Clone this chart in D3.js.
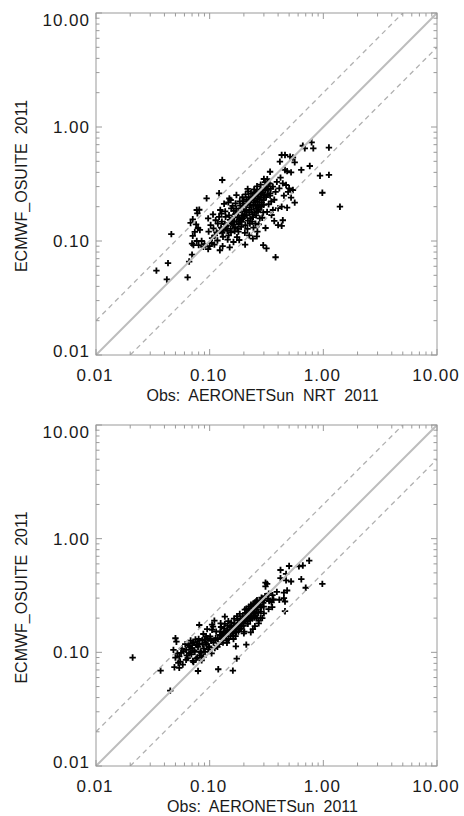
<!DOCTYPE html>
<html><head><meta charset="utf-8">
<script src="https://cdn.jsdelivr.net/npm/d3@7/dist/d3.min.js"></script>
<style>body{margin:0;background:#fff}svg{display:block}</style>
</head><body><svg id="c" width="464" height="816"></svg>
<script>
const majorTicks=[0.01,0.1,1,10];
const tickLabels=["0.01","0.10","1.00","10.00"];
const yTitle="ECMWF_OSUITE  2011";
const xTitles=["Obs:  AERONETSun  NRT  2011","Obs:  AERONETSun  2011"];

// Panel 1: AERONETSun NRT vs ECMWF_OSUITE  [obs, model]
const nrtOuter=[[0.034,0.055],[0.043,0.064],[0.042,0.046],[0.064,0.048],[0.046,0.115],[0.066,0.066],[0.070,0.076],
[0.068,0.144],[0.071,0.155],[0.081,0.188],[0.078,0.175],[0.071,0.111],[0.070,0.095],[0.077,0.10],[0.085,0.10],[0.088,0.089],[0.097,0.085],[0.123,0.083],
[0.129,0.343],[0.094,0.237],[0.121,0.262],[0.153,0.229],[0.216,0.286],[0.077,0.187],[0.074,0.12],[0.079,0.13],[0.076,0.14],[0.082,0.125],
[0.072,0.092],[0.080,0.092],[0.09,0.094],[0.10,0.09],[0.11,0.093],[0.13,0.09],[0.15,0.088],
[0.789,0.734],[0.816,0.65],[0.687,0.65],[0.66,0.685],[1.12,0.66],[0.43,0.568],[0.46,0.568],[0.51,0.55],[0.54,0.54],[0.415,0.497],[0.56,0.49],[0.34,0.405],[0.46,0.42],[0.48,0.41],[0.52,0.40],[0.64,0.42],[0.76,0.455],[0.935,0.374],[1.12,0.38],[0.98,0.265],[1.4,0.2],
[0.50,0.29],[0.54,0.28],[0.47,0.31],[0.49,0.27],[0.45,0.25],[0.52,0.24],[0.56,0.217],[0.48,0.196],[0.43,0.20],[0.40,0.194],[0.36,0.187],[0.35,0.169],[0.37,0.15],[0.40,0.138],[0.43,0.136],[0.44,0.152],[0.296,0.092],[0.316,0.086],[0.38,0.072],
[0.30,0.35],[0.33,0.32],[0.36,0.30],[0.39,0.33],[0.42,0.36],[0.38,0.27],[0.41,0.29],[0.44,0.32],[0.34,0.25],[0.31,0.28],[0.37,0.23],[0.33,0.21],[0.30,0.24],[0.28,0.20],[0.32,0.18],[0.29,0.16],[0.27,0.14],[0.31,0.13],[0.26,0.11],[0.24,0.105]];
const nrtCore=[
[0.098,0.121],[0.102,0.138],[0.105,0.106],[0.097,0.158],[0.104,0.096],
[0.108,0.129],[0.113,0.152],[0.111,0.112],[0.107,0.171],[0.115,0.119],
[0.118,0.142],[0.123,0.122],[0.121,0.163],[0.117,0.101],[0.124,0.187],[0.126,0.131],
[0.128,0.148],[0.133,0.127],[0.131,0.109],[0.127,0.174],[0.134,0.212],[0.136,0.141],[0.129,0.118],
[0.138,0.163],[0.143,0.123],[0.141,0.137],[0.137,0.182],[0.144,0.103],[0.146,0.218],[0.139,0.133],
[0.148,0.168],[0.153,0.128],[0.151,0.153],[0.147,0.112],[0.155,0.193],[0.157,0.143],[0.149,0.236],[0.154,0.119],
[0.158,0.157],[0.163,0.184],[0.161,0.139],[0.166,0.122],[0.159,0.203],[0.164,0.149],[0.162,0.098],[0.167,0.132],
[0.168,0.172],[0.173,0.147],[0.171,0.192],[0.176,0.128],[0.169,0.214],[0.174,0.108],[0.177,0.162],[0.172,0.253],
[0.178,0.178],[0.183,0.158],[0.181,0.141],[0.186,0.204],[0.179,0.121],[0.184,0.223],[0.187,0.152],[0.182,0.102],
[0.188,0.193],[0.193,0.168],[0.191,0.147],[0.196,0.213],[0.189,0.133],[0.194,0.242],[0.197,0.158],
[0.198,0.202],[0.203,0.182],[0.201,0.163],[0.206,0.138],[0.199,0.224],[0.204,0.118],[0.207,0.256],[0.202,0.172],[0.205,0.093],
[0.209,0.187],[0.214,0.213],[0.212,0.168],[0.217,0.151],[0.211,0.232],[0.215,0.128],[0.218,0.272],
[0.219,0.222],[0.224,0.197],[0.222,0.179],[0.227,0.158],[0.221,0.243],[0.226,0.142],[0.223,0.112],
[0.229,0.208],[0.234,0.233],[0.232,0.188],[0.237,0.172],[0.231,0.262],[0.236,0.148],
[0.239,0.243],[0.244,0.218],[0.242,0.203],[0.247,0.178],[0.241,0.162],[0.246,0.283],[0.243,0.131],
[0.249,0.228],[0.254,0.252],[0.252,0.207],[0.257,0.192],[0.251,0.268],[0.256,0.168],[0.253,0.142],
[0.259,0.262],[0.264,0.237],[0.262,0.222],[0.267,0.198],[0.261,0.302],[0.266,0.182],[0.263,0.121],
[0.269,0.248],[0.274,0.232],[0.272,0.208],[0.277,0.273],[0.271,0.188],[0.276,0.158],
[0.279,0.283],[0.284,0.258],[0.282,0.242],[0.287,0.218],[0.281,0.312],[0.286,0.203],
[0.294,0.268],[0.302,0.252],[0.297,0.228],[0.305,0.292],[0.299,0.208],[0.307,0.328],[0.296,0.178],
[0.318,0.302],[0.323,0.258],[0.314,0.243],[0.326,0.282],[0.321,0.348],
[0.337,0.318],[0.345,0.288],[0.341,0.262],[0.348,0.222]];

// Panel 2: AERONETSun vs ECMWF_OSUITE  [obs, model]
const sunOuter=[[0.021,0.090],[0.037,0.069],[0.045,0.046],[0.050,0.133],[0.051,0.124],[0.048,0.105],[0.052,0.098],[0.050,0.090],[0.055,0.083],[0.058,0.078],[0.054,0.073],[0.049,0.074],
[0.081,0.174],[0.079,0.0685],[0.119,0.071],[0.16,0.069],[0.173,0.088],[0.136,0.206],[0.065,0.115],[0.070,0.12],[0.068,0.10],[0.075,0.13],[0.062,0.105],[0.078,0.09],[0.085,0.085],[0.072,0.082],[0.088,0.145],[0.095,0.16],[0.105,0.175],[0.11,0.19],[0.125,0.18],
[0.751,0.64],[0.66,0.58],[0.61,0.57],[0.50,0.575],[0.42,0.53],[0.47,0.49],[0.42,0.45],[0.47,0.43],[0.52,0.42],[0.64,0.44],[0.98,0.40],[0.70,0.37],[0.31,0.41],[0.32,0.40],[0.39,0.34],[0.45,0.335],[0.48,0.35],[0.41,0.29],[0.45,0.30],[0.46,0.28],[0.31,0.38],[0.36,0.29],[0.35,0.275],[0.355,0.25],[0.46,0.23],[0.29,0.20],[0.27,0.19],[0.21,0.117],
[0.20,0.147],[0.17,0.113],[0.25,0.17],[0.27,0.18],[0.23,0.15],[0.28,0.2],[0.30,0.22],[0.33,0.24],[0.26,0.2],[0.24,0.16]];
const sunCore=[
[0.054,0.092],[0.057,0.108],[0.053,0.081],[0.056,0.099],
[0.059,0.102],[0.062,0.086],[0.061,0.118],[0.063,0.094],
[0.064,0.089],[0.067,0.112],[0.066,0.098],[0.068,0.127],
[0.069,0.096],[0.072,0.121],[0.071,0.084],[0.073,0.104],[0.070,0.109],
[0.074,0.101],[0.077,0.116],[0.076,0.088],[0.078,0.124],
[0.079,0.112],[0.082,0.094],[0.081,0.119],[0.083,0.102],[0.080,0.131],
[0.084,0.099],[0.087,0.117],[0.086,0.128],[0.088,0.091],
[0.089,0.108],[0.092,0.122],[0.091,0.101],[0.093,0.139],[0.090,0.129],
[0.094,0.118],[0.097,0.106],[0.096,0.133],[0.098,0.113],
[0.099,0.111],[0.103,0.126],[0.101,0.138],[0.104,0.098],[0.102,0.131],[0.105,0.158],
[0.108,0.122],[0.113,0.133],[0.111,0.109],[0.114,0.152],[0.112,0.128],[0.107,0.168],
[0.118,0.131],[0.123,0.142],[0.121,0.118],[0.124,0.153],[0.117,0.112],[0.126,0.167],
[0.128,0.137],[0.133,0.148],[0.131,0.122],[0.134,0.162],[0.127,0.142],[0.136,0.178],
[0.138,0.139],[0.143,0.157],[0.141,0.128],[0.144,0.172],[0.137,0.149],[0.146,0.188],[0.142,0.121],
[0.148,0.152],[0.153,0.139],[0.151,0.167],[0.147,0.131],[0.155,0.182],[0.157,0.158],
[0.158,0.153],[0.163,0.172],[0.161,0.141],[0.166,0.179],[0.159,0.148],[0.164,0.198],[0.162,0.131],
[0.168,0.162],[0.173,0.173],[0.171,0.151],[0.176,0.192],[0.169,0.139],[0.174,0.208],
[0.178,0.168],[0.183,0.182],[0.181,0.158],[0.186,0.198],[0.179,0.152],[0.184,0.218],
[0.188,0.178],[0.193,0.192],[0.191,0.168],[0.196,0.208],[0.189,0.161],
[0.198,0.182],[0.203,0.198],[0.201,0.188],[0.206,0.222],[0.199,0.171],[0.204,0.238],[0.202,0.152],
[0.209,0.202],[0.214,0.188],[0.212,0.218],[0.217,0.178],[0.211,0.242],
[0.219,0.208],[0.224,0.198],[0.222,0.232],[0.227,0.192],[0.221,0.252],
[0.229,0.222],[0.234,0.208],[0.232,0.242],[0.237,0.198],[0.231,0.262],
[0.239,0.228],[0.244,0.222],[0.242,0.252],[0.247,0.202],[0.241,0.268],
[0.249,0.242],[0.254,0.218],[0.252,0.262],[0.257,0.282],[0.251,0.208],
[0.259,0.238],[0.264,0.252],[0.262,0.272],[0.267,0.222],[0.261,0.288],
[0.276,0.262],[0.283,0.248],[0.279,0.282],[0.286,0.302],[0.281,0.228],
[0.296,0.272],[0.304,0.288],[0.299,0.252],[0.307,0.312],
[0.326,0.298],[0.334,0.282],[0.331,0.328],
[0.357,0.318],[0.364,0.292]];

const panels=[
  {top:13,bottom:355,points:nrtOuter.concat(nrtCore),xTitle:xTitles[0]},
  {top:425,bottom:766,points:sunOuter.concat(sunCore),xTitle:xTitles[1]}
];
const left=96,right=437;
const svg=d3.select("#c");
const frameCol="#9a9a9a",textCol="#1a1a1a",font="'Liberation Sans',Arial,sans-serif";

const minorTicks=[];
[0.01,0.1,1].forEach(d=>{for(let k=2;k<=9;k++)minorTicks.push(+(d*k).toPrecision(3));});

panels.forEach(p=>{
  const x=d3.scaleLog().domain([0.01,10]).range([left,right]);
  const y=d3.scaleLog().domain([0.01,10]).range([p.bottom,p.top]);
  const g=svg.append("g");
  const clipId="clip"+p.top;
  svg.append("clipPath").attr("id",clipId).append("rect")
    .attr("x",left).attr("y",p.top).attr("width",right-left).attr("height",p.bottom-p.top);

  // points
  g.append("g").selectAll("path").data(p.points).join("path")
    .attr("d","M-3.2,0H3.2M0,-3.2V3.2")
    .attr("transform",d=>`translate(${x(d[0])},${y(d[1])})`)
    .attr("stroke","#000").attr("stroke-width",1.8).attr("fill","none");

  // reference lines
  const lg=g.append("g").attr("clip-path",`url(#${clipId})`);
  lg.append("line").attr("x1",x(0.01)).attr("y1",y(0.01)).attr("x2",x(10)).attr("y2",y(10))
    .attr("stroke","#bdbdbd").attr("stroke-width",2);
  lg.append("line").attr("x1",x(0.01)).attr("y1",y(0.02)).attr("x2",x(5)).attr("y2",y(10))
    .attr("stroke","#b0b0b0").attr("stroke-width",1.3).attr("stroke-dasharray","5,4");
  lg.append("line").attr("x1",x(0.02)).attr("y1",y(0.01)).attr("x2",x(10)).attr("y2",y(5))
    .attr("stroke","#b0b0b0").attr("stroke-width",1.3).attr("stroke-dasharray","5,4");

  // frame
  g.append("rect").attr("x",left).attr("y",p.top).attr("width",right-left).attr("height",p.bottom-p.top)
    .attr("fill","none").attr("stroke",frameCol).attr("stroke-width",1);

  // ticks on all four sides
  const tg=g.append("g").attr("stroke",frameCol).attr("stroke-width",1);
  const allT=majorTicks.map(v=>({v,len:6})).concat(minorTicks.map(v=>({v,len:3.5})));
  allT.forEach(t=>{
    const xv=x(t.v),yv=y(t.v);
    tg.append("line").attr("x1",xv).attr("x2",xv).attr("y1",p.bottom).attr("y2",p.bottom-t.len);
    tg.append("line").attr("x1",xv).attr("x2",xv).attr("y1",p.top).attr("y2",p.top+t.len);
    tg.append("line").attr("y1",yv).attr("y2",yv).attr("x1",left).attr("x2",left+t.len);
    tg.append("line").attr("y1",yv).attr("y2",yv).attr("x1",right).attr("x2",right-t.len);
  });

  // tick labels
  majorTicks.forEach((v,i)=>{
    let by=y(v)+6;
    if(i===majorTicks.length-1) by=p.top+13;
    if(i===0) by=p.bottom+1.5;
    g.append("text").attr("x",90).attr("y",by).attr("text-anchor","end")
      .attr("font-family",font).attr("font-size",17).attr("letter-spacing",1).attr("fill",textCol).text(tickLabels[i]);
    g.append("text").attr("x",x(v)-1).attr("y",p.bottom+26).attr("text-anchor","middle")
      .attr("font-family",font).attr("font-size",17).attr("letter-spacing",1).attr("fill",textCol).text(tickLabels[i]);
  });

  // titles
  g.append("text").attr("x",(left+right)/2-4).attr("y",p.bottom+46).attr("text-anchor","middle")
    .attr("font-family",font).attr("font-size",16).attr("fill",textCol)
    .style("white-space","pre").text(p.xTitle);
  g.append("text").attr("transform",`translate(27,${(p.top+p.bottom)/2+2}) rotate(-90)`).attr("text-anchor","middle")
    .attr("font-family",font).attr("font-size",16).attr("fill",textCol)
    .style("white-space","pre").text(yTitle);
});
</script></body></html>
